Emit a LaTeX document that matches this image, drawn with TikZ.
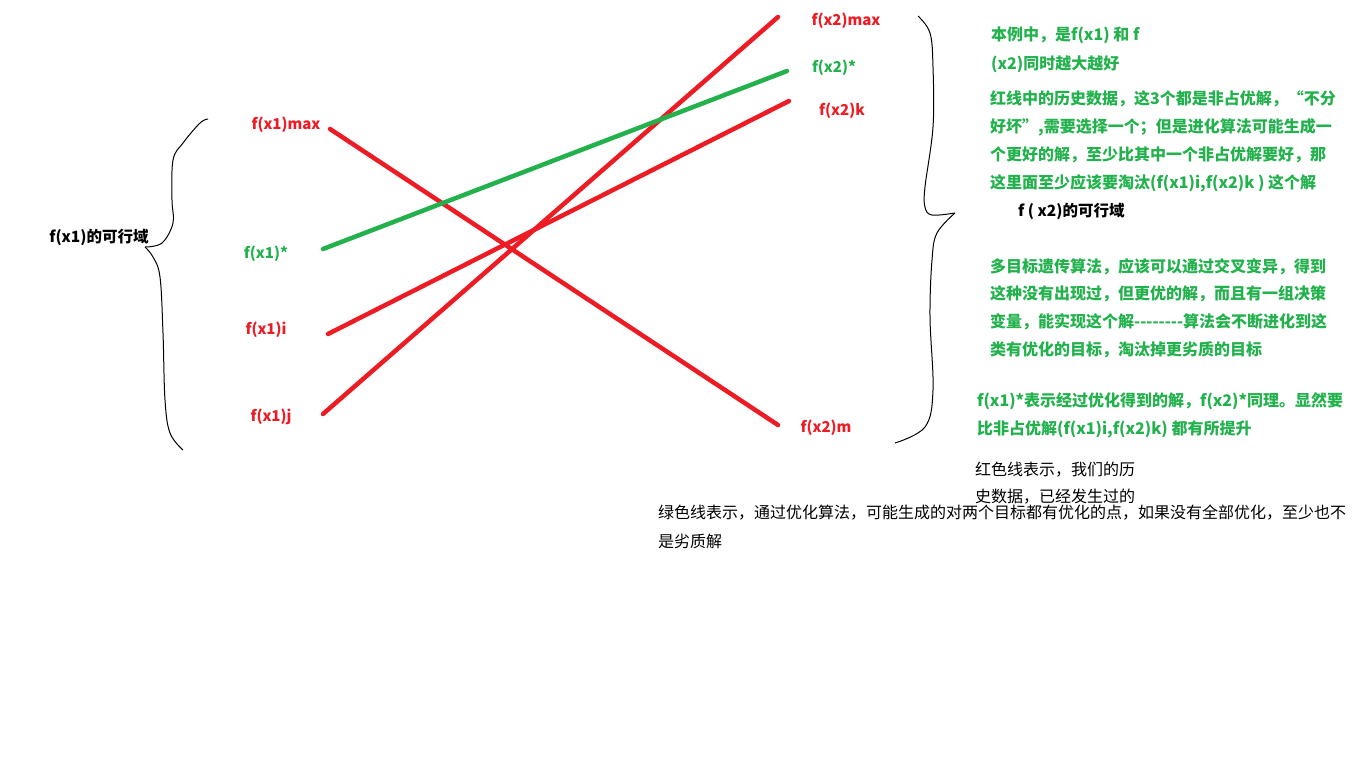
\documentclass[tikz,border=0pt]{standalone}
\usepackage{fontspec}
\newfontfamily\cjk{Noto Sans CJK SC}
\definecolor{paintred}{RGB}{237,28,36}
\definecolor{paintgreen}{RGB}{34,177,76}
\tikzset{
	redlabel/.style={text=paintred,inner sep=0pt,font=\cjk\bfseries\fontsize{15}{18}\selectfont},
	greenlabel/.style={text=paintgreen,inner sep=0pt,font=\cjk\bfseries\fontsize{15}{18}\selectfont},
	domlabel/.style={text=black,inner sep=0pt,font=\cjk\bfseries\fontsize{15.5}{18}\selectfont},
	note/.style={anchor=west,text=paintgreen,inner sep=0pt,font=\cjk\bfseries\fontsize{16}{18}\selectfont},
	blacknote/.style={anchor=west,text=black,inner sep=0pt,font=\cjk\fontsize{16}{18}\selectfont},
	redline/.style={paintred,line width=4.5pt,line cap=round},
	greenline/.style={paintgreen,line width=4.5pt,line cap=round},
	brace/.style={black,line width=1pt}
}
\begin{document}
\begin{tikzpicture}[x=1pt,y=-1pt]
	\useasboundingbox (0,0) rectangle (1353,764);
	
	\coordinate (X1max) at (330,129);
	\coordinate (X1star) at (323,249);
	\coordinate (X1i) at (328,334);
	\coordinate (X1j) at (323,414);
	\coordinate (X2max) at (778,17);
	\coordinate (X2star) at (787,71);
	\coordinate (X2k) at (789,101);
	\coordinate (X2m) at (778,425);
	
	\draw [redline] (X1max) -- (X2m) ;% max vs m
	\draw [redline] (X1j) -- (X2max) ;% j vs max
	\draw [redline] (X1i) -- (X2k) ;% i vs k
	\draw [greenline] (X1star) -- (X2star) ;% optimised
	
	% left brace
	\draw [brace] plot [smooth,tension=0.6] coordinates {(208,119) (200,123) (183,143) (173,160) (172,200) (173,223) (162,243) (145,247)};
	\draw [brace] plot [smooth,tension=0.6] coordinates {(145,247) (153,257) (160,277) (163,333) (165,400) (170,433) (183,450)};
	% right brace
	\draw [brace] plot [smooth,tension=0.6] coordinates {(918,16) (930,33) (933,67) (933,127) (925,187) (925,207) (932,215) (955,213)};
	\draw [brace] plot [smooth,tension=0.6] coordinates {(955,213) (937,233) (932,260) (930,317) (933,390) (925,427) (895,443)};
	
	\node [redlabel] (lx1max) at (286,125) {f(x1)max};
	\node [greenlabel] (lx1star) at (266,254) {f(x1)*};
	\node [redlabel] (lx1i) at (266,330) {f(x1)i};
	\node [redlabel] (lx1j) at (271,417) {f(x1)j};
	\node [redlabel] (lx2max) at (846,21) {f(x2)max};
	\node [greenlabel] (lx2star) at (834,68) {f(x2)*};
	\node [redlabel] (lx2k) at (842,111) {f(x2)k};
	\node [redlabel] (lx2m) at (826,428) {f(x2)m};
	
	\node [domlabel] (dom1) at (99,237) {f(x1)的可行域};
	\node [domlabel,anchor=west] (dom2) at (1018,211) {f ( x2)的可行域};
	
	\node [note] (goal1) at (991,35) {本例中，是f(x1) 和 f};
	\node [note] (goal2) at (991,64) {(x2)同时越大越好};
	
	\node [note] (red1) at (990,99) {红线中的历史数据，这3个都是非占优解，“不分};
	\node [note] (red2) at (990,127) {好坏”,需要选择一个；但是进化算法可能生成一};
	\node [note] (red3) at (990,155) {个更好的解，至少比其中一个非占优解要好，那};
	\node [note] (red4) at (990,183) {这里面至少应该要淘汰(f(x1)i,f(x2)k ) 这个解};
	
	\node [note] (ga1) at (990,267) {多目标遗传算法，应该可以通过交叉变异，得到};
	\node [note] (ga2) at (990,294) {这种没有出现过，但更优的解，而且有一组决策};
	\node [note] (ga3) at (990,322) {变量，能实现这个解-{}-{}-{}-{}-{}-{}-{}-算法会不断进化到这};
	\node [note] (ga4) at (990,350) {类有优化的目标，淘汰掉更劣质的目标};
	
	\node [note] (star1) at (977,401) {f(x1)*表示经过优化得到的解，f(x2)*同理。显然要};
	\node [note] (star2) at (977,429) {比非占优解(f(x1)i,f(x2)k) 都有所提升};
	
	\node [blacknote] (hist1) at (975,470) {红色线表示，我们的历};
	\node [blacknote] (hist2) at (975,497) {史数据，已经发生过的};
	\node [blacknote] (opt1) at (658,513) {绿色线表示，通过优化算法，可能生成的对两个目标都有优化的点，如果没有全部优化，至少也不};
	\node [blacknote] (opt2) at (658,541) {是劣质解};
	
\end{tikzpicture}
\end{document}
